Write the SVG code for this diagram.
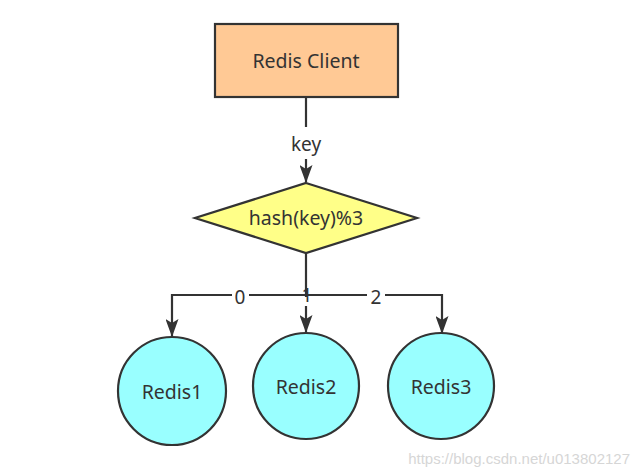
<svg xmlns="http://www.w3.org/2000/svg" width="639" height="476" viewBox="0 0 639 476">
<style>
.s{stroke:#333;stroke-width:2.2}
.t{font-family:"Noto Sans","Open Sans",sans-serif;font-size:19.5px;fill:#333;text-anchor:middle}
.l{font-family:"Noto Sans","Open Sans",sans-serif;font-size:19px;fill:#333;text-anchor:middle}
.c{fill:none;stroke:#333;stroke-width:2.2}
</style>
<defs>
<marker id="a" markerWidth="18" markerHeight="13" refX="17" refY="6.5" orient="auto" markerUnits="userSpaceOnUse" viewBox="0 0 18 13">
<path d="M0,0 L18,6.5 L0,13 L4,6.5 Z" fill="#333"/>
</marker>
</defs>
<rect width="639" height="476" fill="#fff"/>
<g id="connectors">
<path class="c" d="M306,97 V182" marker-end="url(#a)"/>
<rect x="288" y="127" width="36" height="32" fill="#fff"/>
<text class="l" x="306" y="151">key</text>
<path class="c" d="M306,253 V295 H172 V336" marker-end="url(#a)"/>
<path class="c" d="M306,295 H442 V333" marker-end="url(#a)"/>
<path class="c" d="M306,295 V332" marker-end="url(#a)"/>
<rect x="232" y="287" width="17" height="19" fill="#fff"/>
<text class="l" x="240" y="304">0</text>
<rect x="301" y="297" width="12" height="9" fill="#fff"/>
<text class="l" x="307" y="302">1</text>
<rect x="367" y="287" width="18" height="19" fill="#fff"/>
<text class="l" x="376" y="304">2</text>
</g>
<g id="client">
<rect class="s" x="215" y="24" width="183" height="73" fill="#FFC995"/>
<text class="t" x="306" y="68">Redis Client</text>
</g>
<g id="hash">
<polygon class="s" points="306,183 417,218 306,253 195,218" fill="#FFFF88"/>
<text class="t" x="306" y="225">hash(key)%3</text>
</g>
<g id="redis1">
<circle class="s" cx="172" cy="391" r="54" fill="#99FFFF"/>
<text class="t" x="172" y="399">Redis1</text>
</g>
<g id="redis2">
<circle class="s" cx="306" cy="386" r="53" fill="#99FFFF"/>
<text class="t" x="306" y="394">Redis2</text>
</g>
<g id="redis3">
<circle class="s" cx="441" cy="386" r="53" fill="#99FFFF"/>
<text class="t" x="441" y="394">Redis3</text>
</g>
<text x="630" y="464" font-family="Liberation Sans, Arial, sans-serif" font-size="15" fill="#d6d6d6" text-anchor="end">https://blog.csdn.net/u013802127</text>
</svg>
